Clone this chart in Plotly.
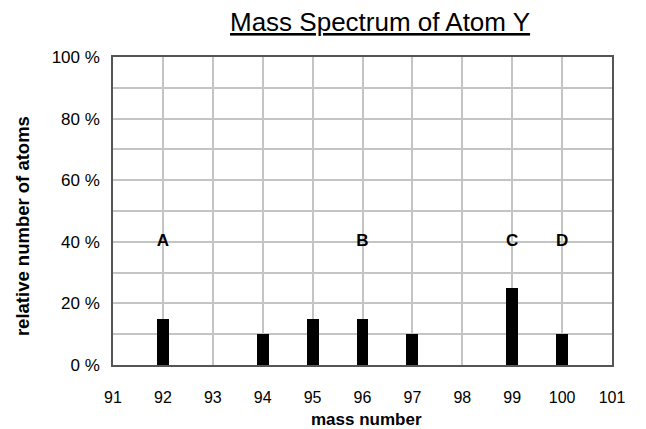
import plotly.graph_objects as go

mass_numbers = [92, 94, 95, 96, 97, 99, 100]
abundance = [15, 10, 15, 15, 10, 25, 10]
label_x = [92, 96, 99, 100]
label_y = [40, 40, 40, 40]
label_text = ["A", "B", "C", "D"]
x_ticks = list(range(91, 102))
y_ticks = list(range(0, 101, 10))
y_ticktext = [f"{v} %" if v % 20 == 0 else "" for v in y_ticks]

FONT = "Liberation Sans, Arial, sans-serif"

fig = go.Figure()
fig.add_trace(go.Bar(x=mass_numbers, y=abundance, width=0.24,
                     marker=dict(color="black", line=dict(width=0)),
                     showlegend=False))
fig.add_trace(go.Scatter(x=label_x, y=label_y, mode="text", text=label_text,
                         textfont=dict(family=FONT, size=17, color="black", weight="bold"),
                         showlegend=False))

fig.update_layout(
    width=638, height=421,
    margin=dict(l=105, r=34, t=49, b=64, autoexpand=False),
    paper_bgcolor="white", plot_bgcolor="white",
    font=dict(family=FONT, color="black"),
    annotations=[
        dict(text="<u>Mass Spectrum of Atom Y</u>", xref="paper", yref="paper",
             x=0.535, y=1, yshift=35, showarrow=False, xanchor="center", yanchor="middle",
             font=dict(family=FONT, size=26, color="black")),
        dict(text="<b>mass number</b>", xref="paper", yref="paper",
             x=0.508, y=0, yshift=-54, showarrow=False, xanchor="center", yanchor="middle",
             font=dict(family=FONT, size=17, color="black")),
        dict(text="<b>relative number of atoms</b>", xref="paper", yref="paper",
             x=0, xshift=-91, y=0.451, textangle=-90, showarrow=False,
             xanchor="center", yanchor="middle",
             font=dict(family=FONT, size=18.5, color="black")),
    ],
    bargap=0,
)
fig.update_xaxes(range=[91, 101], tickvals=x_ticks, ticktext=[str(v) for v in x_ticks],
                 showgrid=True, gridcolor="#c4c4c4", gridwidth=1.5,
                 showline=True, linecolor="#555555", linewidth=1.5, mirror=True,
                 zeroline=False, ticks="", ticklabelstandoff=17, automargin=False,
                 tickfont=dict(size=16, family=FONT))
fig.update_yaxes(range=[0, 100], tickvals=y_ticks, ticktext=y_ticktext,
                 showgrid=True, gridcolor="#c4c4c4", gridwidth=1.5,
                 showline=True, linecolor="#555555", linewidth=1.5, mirror=True,
                 zeroline=False, ticks="", ticklabelstandoff=8, automargin=False,
                 tickfont=dict(size=17, family=FONT))

fig.write_html("out.html")
